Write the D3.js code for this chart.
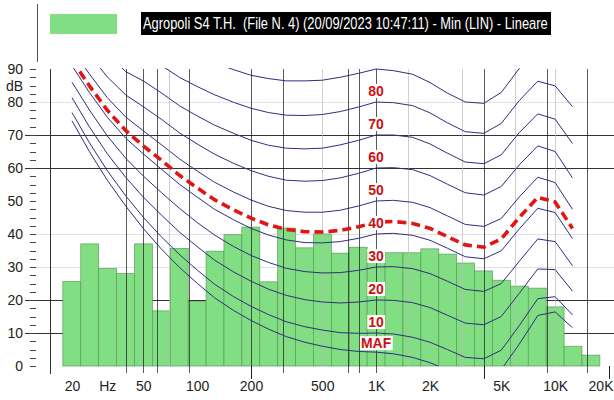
<!DOCTYPE html>
<html>
<head>
<meta charset="utf-8">
<script src="https://cdn.jsdelivr.net/npm/d3@7"></script>
<style>
body { margin: 0; background: #fff; }
svg { display: block; font-family: "Liberation Sans", Arial, sans-serif; }
</style>
</head>
<body>
<svg id="chart" width="614" height="400"></svg>
<script>
var legendTitle = 'Agropoli S4 T.H.  (File N. 4) (20/09/2023 10:47:11) - Min (LIN) - Lineare';

// 1/3 octave bands, Min (LIN) levels in dB
var bandCenters = [20, 25, 31.5, 40, 50, 63, 80, 100, 125, 160, 200, 250, 315, 400, 500, 630,
    800, 1000, 1250, 1600, 2000, 2500, 3150, 4000, 5000, 6300, 8000, 10000, 12500, 16000];
var bandLevels = [25.6, 37, 29.5, 28, 37, 16.7, 35.6, 19.5, 34.8, 39.8, 42.1, 25.5, 41.8, 35.8, 40, 34.2,
    36, 34.5, 34.3, 34.3, 35.5, 33.9, 31.2, 28.8, 26, 24.2, 23.6, 17.9, 6, 3.3];

// equal loudness contours, read at these frequencies
var curveFreqs = [20, 25, 31.5, 40, 50, 63, 80, 100, 125, 160, 200, 250, 315, 400, 500, 630,
    800, 1000, 1250, 1600, 2000, 2500, 3150, 4000, 5000, 6300, 8000, 10000, 12500];
var curveMAF = [74.3, 65.0, 56.3, 48.4, 41.7, 35.5, 29.8, 25.1, 20.7, 16.8, 13.8, 11.2, 8.9, 7.2, 6.0, 5.0,
    4.4, 4.2, 3.7, 2.6, 1.0, -1.2, -3.6, -3.9, -1.1, 6.6, 15.3, 16.4, 11.6];
var curve10 = [76.8, 67.7, 59.2, 51.5, 45.1, 39.2, 33.7, 29.1, 24.8, 21.0, 18.1, 15.6, 13.4, 11.9, 10.9, 10.1,
    9.9, 10.0, 9.7, 8.7, 7.2, 5.0, 2.6, 2.2, 4.8, 12.2, 20.4, 21.0, 15.5];
var curve20 = [81.3, 72.5, 64.3, 57.1, 51.2, 45.8, 40.5, 36.2, 32.1, 28.5, 25.7, 23.3, 21.4, 20.1, 19.4, 19.1,
    19.4, 20.0, 19.9, 19.2, 17.7, 15.4, 13.0, 12.5, 15.0, 22.0, 29.4, 29.2, 22.7];
var curve30 = [86.0, 77.6, 69.7, 62.9, 57.6, 52.6, 47.7, 43.5, 39.7, 36.2, 33.5, 31.4, 29.6, 28.6, 28.2, 28.3,
    29.0, 30.0, 30.1, 29.5, 28.0, 25.7, 23.2, 22.6, 25.0, 31.7, 38.5, 37.7, 30.4];
var curve40 = [91.0, 82.9, 75.4, 69.0, 64.3, 59.7, 55.0, 51.2, 47.5, 44.3, 41.7, 39.7, 38.2, 37.4, 37.3, 37.7,
    38.7, 40.0, 40.2, 39.6, 38.1, 35.7, 33.1, 32.5, 34.9, 41.5, 47.8, 46.5, 38.6];
var curve50 = [96.2, 88.5, 81.3, 75.4, 71.3, 67.1, 62.7, 59.1, 55.7, 52.7, 50.3, 48.4, 47.1, 46.6, 46.6, 47.2,
    48.5, 50.0, 50.2, 49.6, 48.0, 45.5, 42.9, 42.3, 44.7, 51.2, 57.2, 55.6, 47.5];
var curve60 = [101.7, 94.4, 87.6, 82.1, 78.6, 74.8, 70.6, 67.3, 64.2, 61.4, 59.2, 57.5, 56.3, 56.0, 56.2, 57.0,
    58.4, 60.0, 60.1, 59.5, 57.7, 55.1, 52.5, 51.8, 54.4, 60.9, 66.7, 65.0, 57.0];
var curve70 = [107.6, 100.7, 94.3, 89.2, 86.4, 82.8, 78.8, 75.8, 73.0, 70.5, 68.4, 66.9, 66.0, 65.8, 66.0, 67.0,
    68.4, 70.0, 70.0, 69.3, 67.3, 64.5, 61.8, 61.3, 64.0, 70.7, 76.4, 74.8, 67.4];
var curve80 = [113.7, 107.3, 101.3, 96.6, 94.6, 91.1, 87.4, 84.7, 82.2, 79.9, 78.1, 76.8, 76.0, 75.9, 76.2, 77.1,
    78.5, 80.0, 79.8, 78.9, 76.7, 73.7, 71.0, 70.5, 73.5, 80.4, 86.3, 84.9, 78.6];
var curve90 = [120.3, 114.4, 108.7, 104.4, 103.2, 99.8, 96.3, 94.0, 91.8, 89.8, 88.1, 87.1, 86.4, 86.4, 86.6, 87.5,
    88.7, 90.0, 89.5, 88.4, 85.9, 82.7, 80.0, 79.6, 82.9, 90.1, 96.4, 95.5, 90.9];
// loudness level of the measured spectrum (red dashed)
var curveLoudness = [92.8, 84.9, 77.5, 71.3, 66.7, 62.4, 57.7, 54.0, 50.4, 47.3, 44.8, 42.8, 41.4, 40.7, 40.6, 41.1,
    42.2, 43.6, 43.8, 43.2, 41.7, 39.2, 36.7, 36.0, 38.5, 45.0, 51.1, 49.7, 41.7];

var curveLabels = ['80', '70', '60', '50', '40', '30', '20', '10', 'MAF'];
var curveLabelLevels = [80, 70, 60, 50, 40, 30, 20, 10, 4.2];

var yTickValues = [0, 10, 20, 30, 40, 50, 60, 70, 80, 90];
var xTickValues = [20, 31.5, 50, 100, 200, 500, 1000, 2000, 5000, 10000, 20000];
var xTickLabels = ['20', 'Hz', '50', '100', '200', '500', '1K', '2K', '5K', '10K', '20K'];

var gridDarkY = [10, 20, 60, 70];
var gridLightY = [30, 40, 80];
var gridDarkX = [40, 50, 60, 90, 200, 300, 700, 800, 1000, 4000, 9000, 15000];
var gridLightX = [70, 500, 1500, 3000, 6000, 10000];
var longTicksX = [200, 4000, 20000];

var barColor = '#82de82';

var x = d3.scaleLog().domain([20, 20000]).range([72, 609]);
var y = d3.scaleLinear().domain([0, 90]).range([366, 69]);
var svg = d3.select('#chart');

svg.append('defs').append('clipPath').attr('id', 'plotClip')
    .append('rect').attr('x', 50).attr('y', 68).attr('width', 564).attr('height', 298);

// legend
svg.append('line').attr('x1', 37.5).attr('x2', 37.5).attr('y1', 4).attr('y2', 62)
    .attr('stroke', '#555');
svg.append('rect').attr('x', 50).attr('y', 14).attr('width', 67).attr('height', 20)
    .attr('fill', barColor);
svg.append('rect').attr('x', 141).attr('y', 12).attr('width', 410).attr('height', 23)
    .attr('fill', '#000');
var title = svg.append('text')
    .attr('fill', '#fff')
    .style('font-size', '16px').style('white-space', 'pre')
    .text(legendTitle);
// the original font is condensed: squeeze the text into the black box
var titleLen = title.node().getComputedTextLength();
title.attr('transform', 'translate(143,29) scale(' + (405 / titleLen) + ',1)');

// horizontal grid, behind the bars
svg.selectAll('line.hlight').data(gridLightY).enter().append('line')
    .attr('x1', 36).attr('x2', 614)
    .attr('y1', function(d) { return y(d) + 0.5; })
    .attr('y2', function(d) { return y(d) + 0.5; })
    .attr('stroke', '#e2e2e2');
svg.selectAll('line.hdark').data(gridDarkY).enter().append('line')
    .attr('x1', 25).attr('x2', 614)
    .attr('y1', function(d) { return y(d) + 0.5; })
    .attr('y2', function(d) { return y(d) + 0.5; })
    .attr('stroke', '#333');

// bars
var halfBand = Math.pow(10, 0.05);
svg.selectAll('rect.bar').data(bandLevels).enter().append('rect')
    .attr('class', 'bar')
    .attr('x', function(d, i) { return x(1000 * Math.pow(10, (i - 17) / 10) / halfBand); })
    .attr('width', function(d, i) {
        var fc = 1000 * Math.pow(10, (i - 17) / 10);
        return x(fc * halfBand) - x(fc / halfBand);
    })
    .attr('y', function(d) { return y(d); })
    .attr('height', function(d) { return y(0) - y(d); })
    .attr('fill', barColor)
    .attr('stroke', '#5c9c5c')
    .attr('stroke-width', 0.7);

// vertical grid, over the bars
svg.selectAll('line.vlight').data(gridLightX).enter().append('line')
    .attr('x1', function(d) { return Math.round(x(d)) + 0.5; })
    .attr('x2', function(d) { return Math.round(x(d)) + 0.5; })
    .attr('y1', 69).attr('y2', 366)
    .attr('stroke', '#bbb').attr('stroke-opacity', 0.7);
svg.selectAll('line.vdark').data(gridDarkX).enter().append('line')
    .attr('x1', function(d) { return Math.round(x(d)) + 0.5; })
    .attr('x2', function(d) { return Math.round(x(d)) + 0.5; })
    .attr('y1', 69)
    .attr('y2', function(d) { return longTicksX.indexOf(d) >= 0 ? 379 : 373; })
    .attr('stroke', '#222').attr('stroke-opacity', 0.75);
svg.selectAll('line.vlong').data(longTicksX).enter().append('line')
    .attr('x1', function(d) { return Math.round(x(d)) + 0.5; })
    .attr('x2', function(d) { return Math.round(x(d)) + 0.5; })
    .attr('y1', 366).attr('y2', 379)
    .attr('stroke', '#222');

// y axis line and ticks
svg.append('line').attr('x1', 50.5).attr('x2', 50.5).attr('y1', 69).attr('y2', 374)
    .attr('stroke', '#333');
svg.selectAll('line.ytick').data(d3.range(0, 90.1, 2.5)).enter().append('line')
    .attr('x1', 30).attr('x2', 36)
    .attr('y1', function(d) { return Math.round(y(d)) + 0.5; })
    .attr('y2', function(d) { return Math.round(y(d)) + 0.5; })
    .attr('stroke', '#444');

// contours
var line = d3.line()
    .x(function(d, i) { return x(curveFreqs[i]); })
    .y(function(d) { return y(d); });

var plot = svg.append('g').attr('clip-path', 'url(#plotClip)');
var blueCurves = [curveMAF, curve10, curve20, curve30, curve40, curve50, curve60, curve70, curve80, curve90];
plot.selectAll('path.contour').data(blueCurves).enter().append('path')
    .attr('d', line)
    .attr('fill', 'none')
    .attr('stroke', '#2e2e7e')
    .attr('stroke-width', 1);

plot.append('path')
    .attr('d', line(curveLoudness))
    .attr('fill', 'none')
    .attr('stroke', '#e01515')
    .attr('stroke-width', 3.6)
    .attr('stroke-dasharray', '9,5');

// contour labels at 1 kHz
var labels = svg.selectAll('g.clabel').data(curveLabels).enter().append('g')
    .attr('transform', function(d, i) {
        var off = d === 'MAF' ? 9 : 11;
        return 'translate(' + x(1000) + ',' + (y(curveLabelLevels[i]) - off) + ')';
    });
labels.append('text')
    .attr('text-anchor', 'middle')
    .attr('dy', '0.36em')
    .attr('fill', '#cc1111')
    .style('font-size', '14px')
    .style('font-weight', 'bold')
    .text(String);
labels.insert('rect', 'text')
    .each(function() {
        var b = this.parentNode.querySelector('text').getBBox();
        d3.select(this)
            .attr('x', b.x - 1).attr('y', b.y + 1)
            .attr('width', b.width + 2).attr('height', b.height - 2);
    })
    .attr('fill', '#fff');

// axes text
var xAxis = d3.axisBottom(x)
    .tickValues(xTickValues)
    .tickFormat(function(d, i) { return xTickLabels[i]; })
    .tickSize(0).tickPadding(15);
svg.append('g').attr('transform', 'translate(0,366)').call(xAxis)
    .call(function(g) { g.select('.domain').remove(); })
    .selectAll('text')
    .style('font-size', '14px')
    .style('font-family', '"Liberation Sans", Arial, sans-serif')
    .attr('fill', '#222')
    // last label sits on the right edge: keep it inside the page
    .filter(function(d) { return d === 20000; })
    .attr('text-anchor', 'end')
    .attr('x', 613 - x(20000));

var yAxis = d3.axisLeft(y)
    .tickValues(yTickValues)
    .tickSize(0).tickPadding(2);
svg.append('g').attr('transform', 'translate(25,0)').call(yAxis)
    .call(function(g) { g.select('.domain').remove(); })
    .selectAll('text')
    .style('font-size', '14px')
    .style('font-family', '"Liberation Sans", Arial, sans-serif')
    .attr('fill', '#222');

svg.append('text').attr('x', 23).attr('y', y(85)).attr('dy', '0.36em')
    .attr('text-anchor', 'end')
    .attr('fill', '#222')
    .style('font-size', '14px')
    .text('dB');
</script>
</body>
</html>
